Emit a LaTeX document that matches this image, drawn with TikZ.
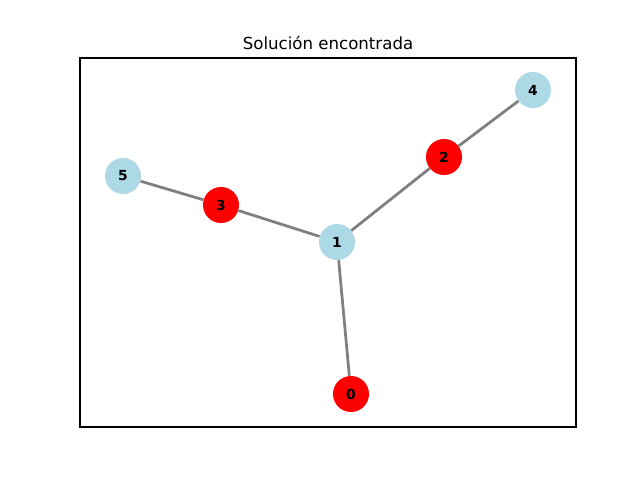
\documentclass[tikz,border=0pt]{standalone}
\usepackage{fontspec}
\setmainfont{DejaVu Sans}
\definecolor{lblue}{HTML}{ADD8E6}
\definecolor{edgegray}{HTML}{808080}
\begin{document}
\begin{tikzpicture}[x=0.01in,y=-0.01in,
  vtx/.style={circle,minimum size=0.36in,inner sep=0pt,font=\fontsize{10}{12}\selectfont\bfseries},
  rv/.style={vtx,fill=red},
  bv/.style={vtx,fill=lblue},
  edge/.style={draw=edgegray,line width=2pt}]
\useasboundingbox (0,0) rectangle (640,480);
\fill[white] (0,0) rectangle (640,480);
\draw[line width=0.8pt] (80,58) rectangle (576,427);
\node[font=\fontsize{12}{14}\selectfont] (title) at (328,43) {Solución encontrada};
\node[rv] (n0) at (351,394) {0};
\node[bv] (n1) at (337,242) {1};
\node[rv] (n2) at (444,157) {2};
\node[rv] (n3) at (221,205) {3};
\node[bv] (n4) at (533,90) {4};
\node[bv] (n5) at (123,176) {5};
\begin{scope}[on background layer/.try]
\end{scope}
\draw[edge] (n0) -- (n1);
\draw[edge] (n1) -- (n2);
\draw[edge] (n2) -- (n4);
\draw[edge] (n1) -- (n3);
\draw[edge] (n3) -- (n5);
\end{tikzpicture}
\end{document}
